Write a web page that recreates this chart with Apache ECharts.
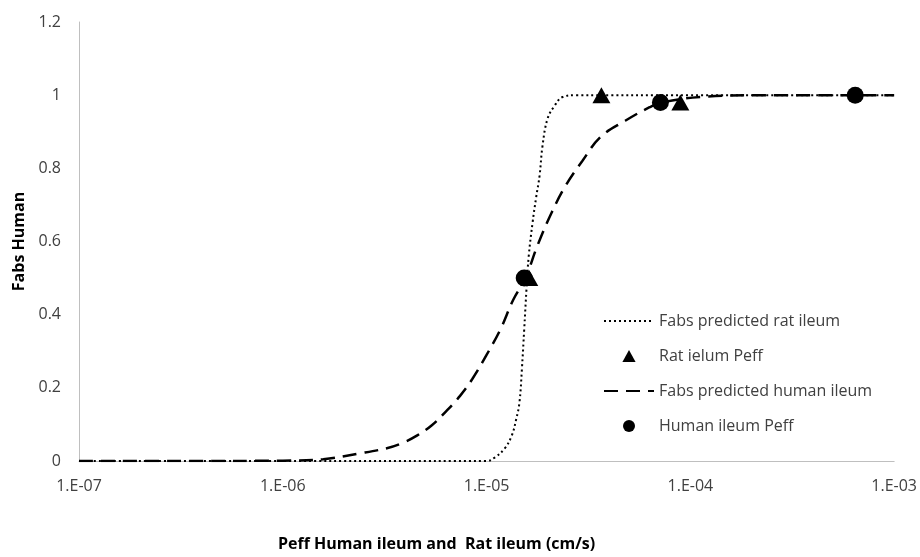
<!DOCTYPE html>
<html>
<head>
<meta charset="utf-8">
<script src="https://cdn.jsdelivr.net/npm/echarts@6/dist/echarts.min.js"></script>
<style>
html,body{margin:0;padding:0;background:#fff;}
#chart{width:920px;height:557px;}
</style>
</head>
<body>
<div id="chart"></div>
<script>
// Peff (cm/s) and Fabs
var ratCurvePeff = [1e-7, 1e-6, 1e-5, 1.10e-5, 1.23e-5, 1.33e-5, 1.40e-5, 1.45e-5, 1.49e-5, 1.53e-5, 1.57e-5, 1.61e-5, 1.68e-5, 1.75e-5, 1.82e-5, 1.88e-5, 1.99e-5, 2.15e-5, 2.36e-5, 2.76e-5, 1e-4, 1e-3];
var ratCurveFabs = [0, 0, 0, 0.01, 0.035, 0.07, 0.116, 0.16, 0.25, 0.36, 0.47, 0.56, 0.65, 0.72, 0.78, 0.86, 0.935, 0.97, 0.995, 1.0, 1.0, 1.0];

var humanCurvePeff = [1e-7, 3.16e-7, 1e-6, 1.58e-6, 2.34e-6, 3.24e-6, 3.89e-6, 4.57e-6, 5.37e-6, 6.31e-6, 7.41e-6, 8.51e-6, 1.0e-5, 1.17e-5, 1.35e-5, 1.55e-5, 1.78e-5, 2.09e-5, 2.45e-5, 2.95e-5, 3.63e-5, 4.79e-5, 6.31e-5, 7.24e-5, 1.12e-4, 2.24e-4, 1e-3];
var humanCurveFabs = [0, 0, 0.001, 0.005, 0.02, 0.035, 0.05, 0.07, 0.097, 0.135, 0.178, 0.224, 0.29, 0.36, 0.44, 0.5, 0.59, 0.68, 0.754, 0.82, 0.886, 0.93, 0.967, 0.98, 0.995, 1.0, 1.0];

var ratPointPeff = [1.62e-5, 3.66e-5, 8.93e-5];
var ratPointFabs = [0.5, 1.0, 0.98];

var humanPointPeff = [1.53e-5, 7.13e-5, 6.44e-4];
var humanPointFabs = [0.5, 0.98, 1.0];

var seriesNames = ['Fabs predicted rat ileum', 'Rat ielum Peff', 'Fabs predicted human ileum', 'Human ileum Peff'];
var xTitle = 'Peff Human ileum and  Rat ileum (cm/s)';
var yTitle = 'Fabs Human';

function pairs(xs, ys) {
  var out = [];
  for (var i = 0; i < xs.length; i++) out.push([xs[i], ys[i]]);
  return out;
}

var chart = echarts.init(document.getElementById('chart'), null, {renderer: 'canvas'});
var font = "Open Sans";
var triPath = 'path://M0,10 L5.5,0 L11,10 Z';
chart.setOption({
  animation: false,
  backgroundColor: '#ffffff',
  grid: {left: 79, right: 25, top: 22, bottom: 91, containLabel: false},
  legend: {
    orient: 'vertical',
    left: 598,
    top: 308,
    itemWidth: 50,
    itemHeight: 12,
    itemGap: 19,
    symbolKeepAspect: true,
    textStyle: {fontFamily: font, fontSize: 16, color: '#404040'},
    data: [
      {name: seriesNames[0], itemStyle: {opacity: 0}},
      {name: seriesNames[1], icon: triPath},
      {name: seriesNames[2], itemStyle: {opacity: 0}},
      {name: seriesNames[3], icon: 'circle'}
    ]
  },
  xAxis: {
    type: 'log',
    logBase: 10,
    min: 1e-7,
    max: 1e-3,
    name: xTitle,
    nameLocation: 'middle',
    nameGap: 75,
    nameTextStyle: {fontFamily: font, fontSize: 16, fontWeight: 'bold', color: '#000', padding: [0, 100, 0, 0]},
    axisLine: {lineStyle: {color: '#bfbfbf', width: 1}},
    axisTick: {show: false},
    splitLine: {show: false},
    axisLabel: {
      fontFamily: font, fontSize: 16, color: '#404040', margin: 17,
      formatter: function (v) {
        var e = Math.round(Math.log10(v));
        var a = Math.abs(e);
        return '1.E' + (e < 0 ? '-' : '+') + (a < 10 ? '0' + a : a);
      }
    }
  },
  yAxis: {
    type: 'value',
    min: 0,
    max: 1.2,
    interval: 0.2,
    name: yTitle,
    nameLocation: 'middle',
    nameGap: 49,
    nameTextStyle: {fontFamily: font, fontSize: 16, fontWeight: 'bold', color: '#000'},
    axisLine: {show: true, lineStyle: {color: '#bfbfbf', width: 1}},
    axisTick: {show: false},
    splitLine: {show: false},
    axisLabel: {
      fontFamily: font, fontSize: 16, color: '#404040', margin: 18,
      formatter: function (v) { return String(Math.round(v * 10) / 10); }
    }
  },
  series: [
    {
      name: seriesNames[0], type: 'line', symbol: 'none', smooth: 0.4,
      data: pairs(ratCurvePeff, ratCurveFabs),
      lineStyle: {color: '#000', width: 2, type: [2, 3]},
      itemStyle: {color: '#000'}, z: 2
    },
    {
      name: seriesNames[1], type: 'scatter', symbol: 'triangle', symbolSize: [18, 16],
      data: pairs(ratPointPeff, ratPointFabs),
      itemStyle: {color: '#000', opacity: 1}, z: 4
    },
    {
      name: seriesNames[2], type: 'line', symbol: 'none', smooth: 0.4,
      data: pairs(humanCurvePeff, humanCurveFabs),
      lineStyle: {color: '#000', width: 2.5, type: [14, 8]},
      itemStyle: {color: '#000'}, z: 3
    },
    {
      name: seriesNames[3], type: 'scatter', symbol: 'circle', symbolSize: 17,
      data: pairs(humanPointPeff, humanPointFabs),
      itemStyle: {color: '#000', opacity: 1}, z: 5
    }
  ]
});
</script>
</body>
</html>
